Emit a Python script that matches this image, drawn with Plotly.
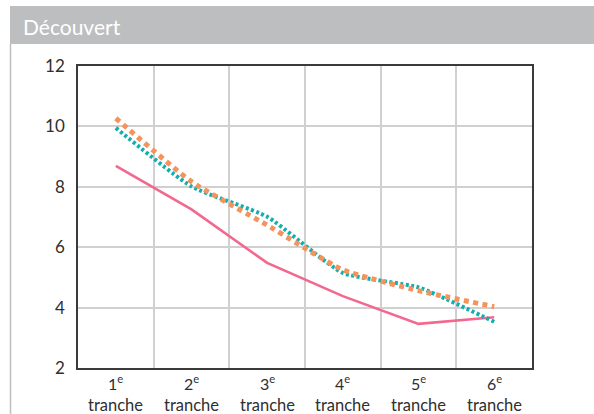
import plotly.graph_objects as go

# Tranches (x categories) and the three series
tranches = ["1", "2", "3", "4", "5", "6"]
rangs = [f"{t}<sup>e</sup>" for t in tranches]
serie_rose = [8.69, 7.25, 5.48, 4.38, 3.46, 3.68]
serie_orange = [10.27, 8.17, 6.73, 5.25, 4.56, 4.03]
serie_turquoise = [9.95, 8.01, 7.01, 5.15, 4.67, 3.53]
y_ticks = [2, 4, 6, 8, 10, 12]

W, H = 594, 414
L, R, T, B = 78, 62, 66, 46
PW, PH = W - L - R, H - T - B


def px_x(p):
    return (p - L) / PW


def px_y(p):
    return (H - B - p) / PH


FONT = "Lato, 'Open Sans', sans-serif"
GREY = "#bdbec0"
TEXT = "#2f2f2f"

fig = go.Figure()
fig.add_trace(go.Scatter(x=tranches, y=serie_rose, mode="lines",
                         line=dict(color="#f2688f", width=2.6)))
fig.add_trace(go.Scatter(x=tranches, y=serie_turquoise, mode="lines",
                         line=dict(color="#11aeb0", width=4, dash="3px,2.5px",
                                   shape="spline", smoothing=0.5)))
fig.add_trace(go.Scatter(x=tranches, y=serie_orange, mode="lines",
                         line=dict(color="#f5935c", width=5, dash="5px,4.5px",
                                   shape="spline", smoothing=0.5)))

# Two-line category labels under each tranche (category index on the x axis)
annotations = [
    dict(text="Découvert", xref="paper", yref="paper",
         x=px_x(21), y=px_y(26), xanchor="left", yanchor="middle",
         showarrow=False, font=dict(color="white", size=21, family=FONT)),
]
for i, r in enumerate(rangs):
    annotations.append(dict(text=r, x=i, xref="x", yref="paper", y=px_y(382),
                            xanchor="center", yanchor="middle", showarrow=False,
                            font=dict(size=16, color=TEXT, family=FONT)))
    annotations.append(dict(text="tranche", x=i, xref="x", yref="paper",
                            y=px_y(405), xanchor="center", yanchor="middle",
                            showarrow=False,
                            font=dict(size=16.5, color=TEXT, family=FONT)))

fig.update_layout(
    width=W, height=H,
    margin=dict(l=L, r=R, t=T, b=B, pad=0),
    paper_bgcolor="white", plot_bgcolor="white",
    showlegend=False,
    font=dict(family=FONT, color=TEXT, size=16),
    xaxis=dict(type="category", tickmode="array", tickvals=tranches,
               ticktext=["" for _ in tranches], tickson="boundaries",
               showgrid=True, gridcolor="#d0d0d0", gridwidth=1.5,
               showline=True, mirror=True, linecolor="#3a3a3a", linewidth=1.5,
               ticks="", range=[-0.5, 5.5], automargin=False),
    yaxis=dict(range=[2, 12], tickvals=y_ticks, showgrid=True,
               gridcolor="#d0d0d0", gridwidth=1.5,
               showline=True, mirror=True, linecolor="#3a3a3a", linewidth=1.5,
               ticks="", ticklabelstandoff=8, zeroline=False,
               tickfont=dict(size=17), automargin=False),
    shapes=[
        dict(type="rect", xref="paper", yref="paper",
             x0=px_x(10), x1=px_x(W + 2), y0=px_y(44), y1=px_y(6),
             fillcolor=GREY, line=dict(width=0)),
        dict(type="line", xref="paper", yref="paper",
             x0=px_x(10.5), x1=px_x(10.5), y0=px_y(44), y1=px_y(H + 2),
             line=dict(color=GREY, width=1.5)),
    ],
    annotations=annotations,
)

fig.write_html("out.html")
